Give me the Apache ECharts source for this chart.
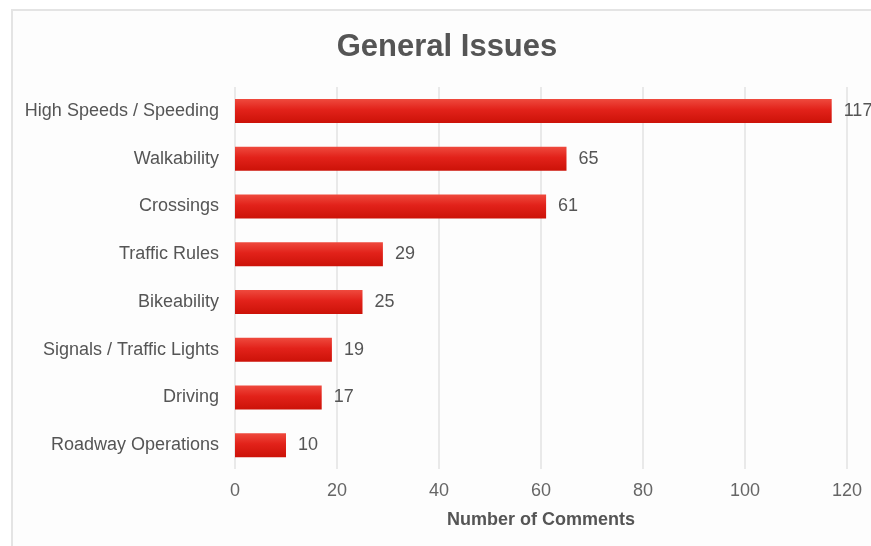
<!DOCTYPE html>
<html>
<head>
<meta charset="utf-8">
<script src="https://cdn.jsdelivr.net/npm/echarts@6/dist/echarts.min.js"></script>
<style>html,body{margin:0;padding:0;background:#ffffff;}#c{width:871px;height:546px;}</style>
</head>
<body>
<div id="c"></div>
<script>
var categories = ["High Speeds / Speeding","Walkability","Crossings","Traffic Rules","Bikeability","Signals / Traffic Lights","Driving","Roadway Operations"];
var values = [117,65,61,29,25,19,17,10];
var xTicks = [0,20,40,60,80,100,120];

var chart = echarts.init(document.getElementById('c'));
chart.setOption({
  backgroundColor: '#ffffff',
  animation: false,
  graphic: [{
    type: 'rect', z: -10, silent: true,
    shape: {x: 12, y: 10, width: 900, height: 560},
    style: {fill: '#fdfdfd', stroke: '#e4e4e4', lineWidth: 2}
  }],
  title: {
    text: 'General Issues', left: 442, top: 27, textAlign: 'center',
    textStyle: {fontFamily: 'Liberation Sans, Arial', fontSize: 31, fontWeight: 'bold', color: '#555555'}
  },
  grid: {left: 235, right: 24, top: 87, bottom: 77, containLabel: false},
  xAxis: {
    type: 'value', min: xTicks[0], max: xTicks[xTicks.length-1], interval: 20,
    name: 'Number of Comments', nameLocation: 'middle', nameGap: 42,
    nameTextStyle: {fontFamily: 'Liberation Sans, Arial', fontSize: 18, fontWeight: 'bold', color: '#555'},
    axisLine: {show: false}, axisTick: {show: false},
    axisLabel: {fontFamily: 'Liberation Sans, Arial', fontSize: 18, color: '#666', margin: 13},
    splitLine: {show: true, lineStyle: {color: '#e2e2e2', width: 1.5}}
  },
  yAxis: {
    type: 'category', data: categories, inverse: true,
    axisLine: {show: false}, axisTick: {show: false},
    axisLabel: {fontFamily: 'Liberation Sans, Arial', fontSize: 18, color: '#555', margin: 16}
  },
  series: [{
    type: 'bar', data: values, barWidth: 24,
    itemStyle: {
      color: new echarts.graphic.LinearGradient(0, 0, 0, 1, [
        {offset: 0, color: '#ef4a3e'},
        {offset: 0.45, color: '#e2221a'},
        {offset: 1, color: '#cc1208'}
      ])
    },
    label: {show: true, position: 'right', distance: 12, fontFamily: 'Liberation Sans, Arial', fontSize: 18, color: '#555'}
  }]
});
</script>
</body>
</html>
